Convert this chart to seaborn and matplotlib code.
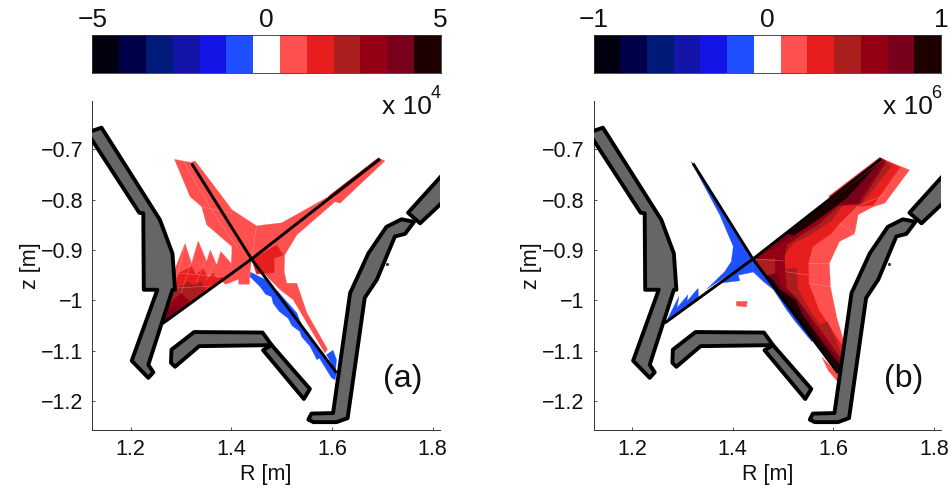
import numpy as np
import matplotlib
matplotlib.use("Agg")
import matplotlib.pyplot as plt
from matplotlib.colors import ListedColormap
import seaborn as sns

sns.set_style("ticks")
plt.rcParams['font.family'] = ['Liberation Sans', 'DejaVu Sans']
plt.rcParams['axes.unicode_minus'] = True

# ---------- colour scale ----------
level_colors = ['#00000f', '#00004a', '#001a78', '#1414aa', '#1414e6', '#1e50ff', '#ffffff',
                '#ff5050', '#e61e1e', '#aa1e1e', '#960014', '#78001a', '#1e0000']
cbar_levels = [-6, -5, -4, -3, -2, -1, 0, 1, 2, 3, 4, 5, 6]
cbar_labels_a = ['\u22125', '0', '5']
cbar_labels_b = ['\u22121', '0', '1']

x_ticks = [1.2, 1.4, 1.6, 1.8]
x_tick_labels = ['1.2', '1.4', '1.6', '1.8']
y_ticks = [-0.7, -0.8, -0.9, -1.0, -1.1, -1.2]
y_tick_labels = ['\u22120.7', '\u22120.8', '\u22120.9', '\u22121', '\u22121.1', '\u22121.2']

# ---------- vessel walls (R, z in m) ----------
wall_left = [(1.119, -0.665), (1.142, -0.657), (1.258, -0.840), (1.283, -0.907), (1.288, -0.979),
             (1.283, -0.979), (1.235, -1.128), (1.245, -1.143), (1.235, -1.154), (1.202, -1.120),
             (1.253, -0.979), (1.226, -0.979), (1.225, -0.827), (1.217, -0.826), (1.119, -0.675)]
wall_dome = [(1.281, -1.098), (1.326, -1.063), (1.462, -1.064), (1.480, -1.089), (1.336, -1.091),
             (1.288, -1.132), (1.280, -1.124)]
wall_baffle = [(1.480, -1.089), (1.556, -1.176), (1.544, -1.196), (1.463, -1.099)]
wall_right = [(1.763, -0.844), (1.738, -0.839), (1.708, -0.854), (1.672, -0.907), (1.639, -0.979),
              (1.636, -0.985), (1.602, -1.224), (1.559, -1.225), (1.553, -1.237), (1.563, -1.242),
              (1.609, -1.242), (1.631, -1.234), (1.665, -0.995), (1.689, -0.959), (1.725, -0.873),
              (1.745, -0.868)]
wall_upper_right = [(1.751, -0.826), (1.828, -0.741), (1.828, -0.797), (1.775, -0.847)]
walls = [wall_left, wall_dome, wall_baffle, wall_right, wall_upper_right]
wall_dot = (1.710, -0.928)

# ---------- separatrix ----------
x_point = (1.440, -0.918)
leg_upper_left = (1.321, -0.728)
leg_upper_right = (1.695, -0.719)
leg_lower_left = (1.265, -1.045)
leg_lower_right = (1.609, -1.144)

# ---------- panel (a) regions ----------
a_star = [(1.287, -0.720), (1.320, -0.726), (1.328, -0.723), (1.387, -0.801), (1.401, -0.820),
          (1.450, -0.852), (1.500, -0.846), (1.593, -0.794), (1.692, -0.717), (1.705, -0.723),
          (1.616, -0.807), (1.606, -0.804), (1.530, -0.870), (1.506, -0.910), (1.505, -0.943),
          (1.510, -0.966), (1.530, -0.966), (1.550, -1.025), (1.591, -1.097), (1.586, -1.105),
          (1.550, -1.045), (1.523, -0.999), (1.497, -0.979), (1.477, -0.959), (1.440, -0.918),
          (1.401, -0.926), (1.401, -0.893), (1.351, -0.850), (1.341, -0.814), (1.318, -0.794)]
a_saw = [(1.286, -0.943), (1.308, -0.887), (1.321, -0.927), (1.334, -0.882), (1.351, -0.923),
         (1.358, -0.900), (1.371, -0.930), (1.379, -0.903), (1.400, -0.927), (1.402, -0.900),
         (1.440, -0.918), (1.437, -0.944), (1.436, -0.968), (1.415, -0.968), (1.414, -0.958),
         (1.389, -0.968), (1.380, -0.962), (1.262, -1.049)]
a_core = [(1.440, -0.918), (1.490, -0.890), (1.503, -0.910), (1.485, -0.916), (1.485, -0.945),
          (1.450, -0.948)]
a_strip = [(1.593, -0.793), (1.692, -0.717), (1.697, -0.722), (1.610, -0.790)]
a_saw2 = [(1.283, -0.976), (1.295, -0.946), (1.321, -0.933), (1.330, -0.950), (1.343, -0.936),
          (1.354, -0.956), (1.364, -0.946), (1.371, -0.956), (1.384, -0.953), (1.367, -0.971),
          (1.262, -1.049)]
a_saw3 = [(1.278, -0.999), (1.290, -0.976), (1.314, -0.963), (1.324, -0.970), (1.341, -0.963),
          (1.348, -0.984), (1.262, -1.049)]
a_saw4 = [(1.271, -1.019), (1.285, -0.999), (1.301, -0.986), (1.314, -0.999), (1.321, -1.006),
          (1.262, -1.049)]
a_saw5 = [(1.266, -1.036), (1.277, -1.019), (1.291, -1.013), (1.291, -1.027), (1.262, -1.049)]
a_blue_band = [(1.438, -0.944), (1.450, -0.950), (1.470, -0.960), (1.600, -1.130), (1.609, -1.144),
               (1.606, -1.158), (1.599, -1.154), (1.575, -1.115), (1.570, -1.118), (1.556, -1.091),
               (1.540, -1.073), (1.536, -1.062), (1.520, -1.050), (1.513, -1.036), (1.495, -1.022),
               (1.483, -1.006), (1.480, -0.993), (1.468, -0.988), (1.457, -0.973), (1.437, -0.953)]
a_blue_upper = [(1.490, -0.980), (1.530, -1.025), (1.540, -1.050), (1.500, -0.995)]
a_blue_spike = [(1.602, -1.099), (1.609, -1.118), (1.607, -1.140), (1.589, -1.108)]
regions_a = [(1, a_star), (1, a_saw), (2, a_core), (2, a_strip), (2, a_saw2), (3, a_saw3),
             (4, a_saw4), (5, a_saw5), (-1, a_blue_band), (-1, a_blue_upper), (-1, a_blue_spike)]
mesh_a = [[(1.305, -0.724), (1.364, -0.826), (1.411, -0.893)],
          [(1.450, -0.852), (1.440, -0.918)],
          [(1.341, -0.814), (1.401, -0.827)],
          [(1.285, -0.985), (1.308, -0.887)], [(1.300, -0.985), (1.334, -0.882)],
          [(1.330, -0.965), (1.358, -0.900)], [(1.350, -0.960), (1.379, -0.903)],
          [(1.283, -0.976), (1.367, -0.971)], [(1.295, -0.946), (1.384, -0.953)]]

# ---------- panel (b) regions ----------
b_fan1 = [(1.440, -0.918), (1.695, -0.718), (1.751, -0.741), (1.702, -0.807), (1.679, -0.814),
          (1.649, -0.830), (1.642, -0.868), (1.612, -0.883), (1.592, -0.926), (1.594, -0.973),
          (1.607, -1.036), (1.620, -1.079), (1.615, -1.125), (1.610, -1.148)]
b_fan2 = [(1.440, -0.918), (1.695, -0.718), (1.732, -0.736), (1.679, -0.811), (1.646, -0.814),
          (1.612, -0.847), (1.596, -0.867), (1.559, -0.893), (1.550, -0.926), (1.551, -0.966),
          (1.571, -1.019), (1.586, -1.042), (1.617, -1.089), (1.614, -1.122), (1.610, -1.148)]
b_fan3 = [(1.440, -0.918), (1.695, -0.718), (1.715, -0.733), (1.655, -0.811), (1.619, -0.811),
          (1.596, -0.842), (1.556, -0.868), (1.520, -0.887), (1.503, -0.910), (1.503, -0.938),
          (1.527, -0.936), (1.529, -0.976), (1.539, -0.996), (1.557, -1.026), (1.574, -1.049),
          (1.588, -1.042), (1.614, -1.102), (1.612, -1.142)]
b_fan4 = [(1.440, -0.918), (1.695, -0.718), (1.704, -0.726), (1.652, -0.808), (1.612, -0.812),
          (1.566, -0.852), (1.536, -0.870), (1.507, -0.890), (1.503, -0.913), (1.504, -0.943),
          (1.507, -0.976), (1.524, -0.993), (1.541, -1.016), (1.574, -1.059), (1.614, -1.115),
          (1.612, -1.142)]
b_fan5 = [(1.440, -0.918), (1.695, -0.718), (1.702, -0.722), (1.646, -0.807), (1.606, -0.807),
          (1.559, -0.847), (1.520, -0.873), (1.487, -0.893), (1.450, -0.913), (1.488, -0.946),
          (1.497, -0.973), (1.527, -0.996), (1.547, -1.026), (1.574, -1.072), (1.614, -1.122),
          (1.612, -1.142)]
b_black_upper = [(1.697, -0.719), (1.626, -0.797), (1.573, -0.837), (1.523, -0.870), (1.505, -0.868)]
b_black_lower = [(1.468, -0.950), (1.481, -0.960), (1.494, -0.979), (1.524, -0.999), (1.537, -1.026),
                 (1.571, -1.075), (1.612, -1.128), (1.612, -1.142), (1.455, -0.938)]
b_patch = [(1.441, -0.919), (1.484, -0.917), (1.484, -0.946), (1.468, -0.950)]
b_strip = [(1.591, -0.793), (1.692, -0.716), (1.700, -0.720), (1.595, -0.800)]
b_tip = [(1.577, -1.113), (1.612, -1.148), (1.607, -1.160), (1.590, -1.140)]
b_spot = [(1.407, -1.002), (1.429, -1.002), (1.427, -1.013), (1.407, -1.011)]
b_blue_ul = [(1.317, -0.724), (1.374, -0.830), (1.401, -0.893), (1.397, -0.923), (1.384, -0.943),
             (1.348, -0.978), (1.440, -0.918), (1.321, -0.728)]
b_blue_ll = [(1.267, -1.044), (1.293, -0.992), (1.289, -1.015), (1.311, -0.989), (1.309, -1.002),
             (1.331, -0.976), (1.332, -0.995), (1.374, -0.966), (1.414, -0.961), (1.411, -0.950),
             (1.440, -0.944), (1.440, -0.918)]
b_blue_lr = [(1.440, -0.918), (1.440, -0.943), (1.461, -0.963), (1.481, -0.979), (1.507, -1.019),
             (1.524, -1.042), (1.557, -1.082), (1.560, -1.078)]
b_blue_edge = [(1.321, -0.728), (1.378, -0.815), (1.372, -0.815)]
regions_b = [(1, b_fan1), (2, b_fan2), (3, b_fan3), (4, b_fan4), (5, b_fan5), (6, b_black_upper),
             (6, b_black_lower), (3, b_patch), (2, b_strip), (1, b_tip), (1, b_spot),
             (-1, b_blue_ul), (-1, b_blue_ll), (-1, b_blue_lr), (-2, b_blue_edge)]
mesh_b = [[(1.440, -0.918), (1.503, -0.922)],
          [(1.550, -0.926), (1.592, -0.926)],
          [(1.612, -0.847), (1.642, -0.868)],
          [(1.646, -0.814), (1.702, -0.790)],
          [(1.504, -0.943), (1.551, -0.950)],
          [(1.551, -0.966), (1.594, -0.973)]]

# ---------- layout ----------
W, H = 951, 488
TEXT = '#111111'
fig = plt.figure(figsize=(W / 100, H / 100), dpi=100)
cmap = ListedColormap(level_colors)


def frac(l, t, r, b):
    return [l / W, 1 - b / H, (r - l) / W, (b - t) / H]


def colorbar(rect, labels):
    ax = fig.add_axes(rect)
    sns.heatmap(np.array([cbar_levels]), ax=ax, cmap=cmap, vmin=-6.5, vmax=6.5, cbar=False,
                xticklabels=False, yticklabels=False)
    ax.set_xticks([0, len(cbar_levels) / 2, len(cbar_levels)])
    ax.set_xticklabels(labels, fontsize=19, color=TEXT)
    ax.tick_params(axis='x', top=True, bottom=False, labeltop=True, labelbottom=False,
                   direction='in', length=2.5, width=0.6, color='#333333', pad=2)
    ax.set_yticks([])
    for s in ax.spines.values():
        s.set_visible(True)
        s.set_linewidth(0.6)
        s.set_color('#333333')


def panel(rect, regions, mesh, letter, exponent):
    ax = fig.add_axes(rect)
    for level, pts in regions:
        r, z = zip(*pts)
        ax.fill(r, z, color=level_colors[level + 6], lw=0.2, zorder=2)
    for seg in mesh:
        r, z = zip(*seg)
        ax.plot(r, z, color='#ffb4b4', lw=0.4, alpha=0.5, zorder=3)
    for pts in walls:
        r, z = zip(*pts)
        ax.fill(r, z, facecolor='#666666', edgecolor='black', lw=2.8, joinstyle='round', zorder=5)
    ax.plot(*wall_dot, '.', color='#333333', ms=2.5, zorder=5)
    for leg in (leg_upper_left, leg_upper_right, leg_lower_left, leg_lower_right):
        ax.plot([x_point[0], leg[0]], [x_point[1], leg[1]], color='black', lw=2.1,
                solid_capstyle='butt', zorder=4)
    ax.set_xlim(1.1237, 1.8145)
    ax.set_ylim(-1.2576, -0.604)
    ax.set_xticks(x_ticks)
    ax.set_xticklabels(x_tick_labels, fontsize=15.5)
    ax.set_yticks(y_ticks)
    ax.set_yticklabels(y_tick_labels, fontsize=15.5)
    ax.tick_params(direction='in', length=2.5, width=0.6, color='#333333', pad=6.5, labelcolor=TEXT)
    ax.set_xlabel('R [m]', fontsize=15.5, labelpad=3, color=TEXT)
    ax.set_ylabel('z [m]', fontsize=15.5, labelpad=0, color=TEXT)
    sns.despine(ax=ax)
    for s in ('left', 'bottom'):
        ax.spines[s].set_linewidth(0.7)
        ax.spines[s].set_color('#333333')
    ax.text(1.699, -0.630, 'x 10', fontsize=19, color=TEXT, va='baseline', zorder=6)
    ax.text(1.795, -0.598, exponent, fontsize=13, color=TEXT, va='baseline', clip_on=False)
    ax.text(1.701, -1.172, letter, fontsize=23, color=TEXT, va='baseline', zorder=6)
    return ax


colorbar(frac(92.3, 35, 440.7, 72.7), cbar_labels_a)
colorbar(frac(593.5, 35, 941, 72.7), cbar_labels_b)
panel(frac(92.3, 101, 440, 430), regions_a, mesh_a, '(a)', '4')
panel(frac(593.7, 101, 941.4, 430), regions_b, mesh_b, '(b)', '6')

fig.savefig('out.png', dpi=100, facecolor='white')
